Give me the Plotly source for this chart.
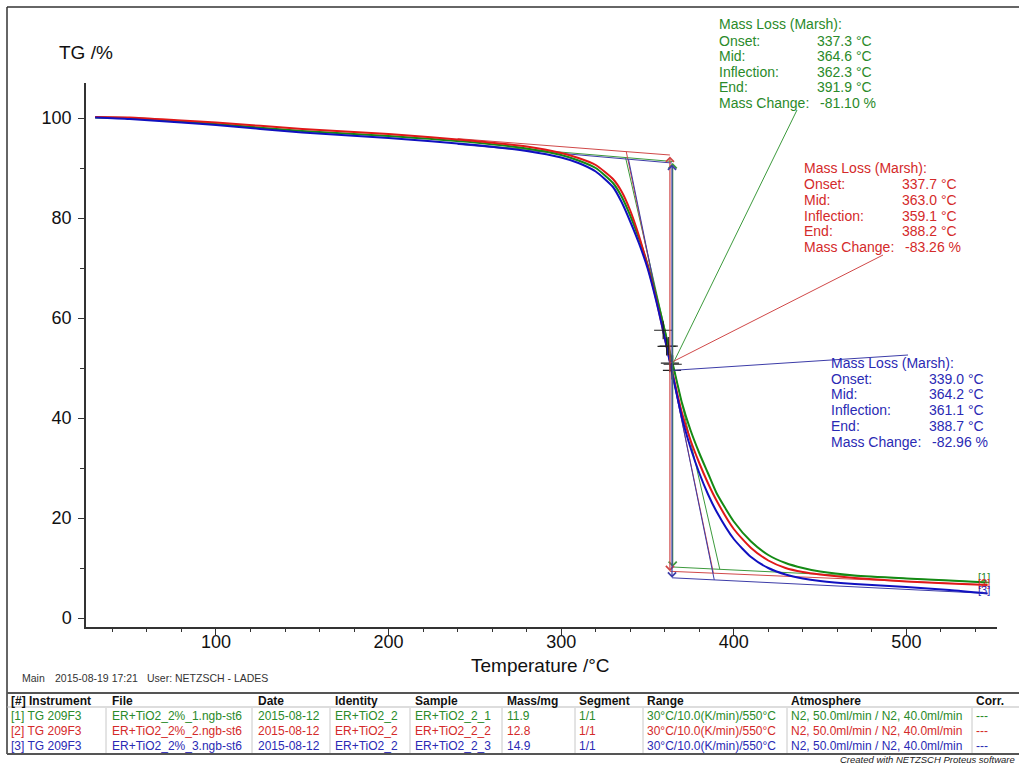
import plotly.graph_objects as go

# ---------------- data ----------------
temps = [30, 50, 80, 100, 150, 200, 250, 280, 300, 310, 320, 330, 335, 340, 345, 350, 355, 360,
         365, 370, 375, 380, 385, 390, 400, 410, 420, 430, 440, 450, 470, 500, 525, 547]
tg_1 = [100.1, 100.0, 99.3, 98.8, 97.4, 96.4, 95.1, 93.9, 92.6, 91.5, 90.0, 87.0, 84.3, 80.5, 76.0, 70.8, 64.5, 57.5,
        50.3, 43.0, 37.5, 33.0, 29.0, 25.0, 19.3, 15.3, 12.6, 11.0, 10.0, 9.3, 8.5, 7.9, 7.5, 7.1]
tg_2 = [100.2, 100.1, 99.5, 99.1, 97.8, 96.8, 95.4, 94.3, 93.0, 92.0, 90.6, 87.8, 85.3, 81.5, 76.5, 70.5, 63.8, 56.0,
        48.3, 41.0, 35.5, 31.0, 27.0, 23.5, 17.8, 14.0, 11.5, 10.0, 9.2, 8.7, 8.0, 7.3, 6.9, 6.6]
tg_3 = [100.1, 99.8, 99.1, 98.6, 97.1, 96.0, 94.6, 93.4, 92.1, 91.0, 89.3, 86.2, 83.2, 79.3, 75.0, 70.0, 63.5, 56.0,
        47.9, 40.0, 34.0, 29.0, 24.8, 21.3, 15.8, 12.2, 10.0, 8.7, 7.9, 7.4, 6.8, 6.2, 5.6, 4.9]

sample_ids = ["[1]", "[2]", "[3]"]
onset_T = [337.3, 337.7, 339.0]
mid_T = [364.6, 363.0, 364.2]
infl_T = [362.3, 359.1, 361.1]
end_T = [391.9, 388.2, 388.7]
mass_change = [-81.10, -83.26, -82.96]
upper_level = [91.3, 92.6, 91.0]        # upper baseline level at mid temperature
upper_slope = [-0.029, -0.0266, -0.030]
lower_slope = [-0.0169, -0.0148, -0.0171]
upper_start_T = 240
lower_stop_T = 547

table_header = ["[#] Instrument", "File", "Date", "Identity", "Sample", "Mass/mg", "Segment", "Range",
                "Atmosphere", "Corr."]
instrument = ["[1] TG 209F3", "[2] TG 209F3", "[3] TG 209F3"]
files = ["ER+TiO2_2%_1.ngb-st6", "ER+TiO2_2%_2.ngb-st6", "ER+TiO2_2%_3.ngb-st6"]
dates = ["2015-08-12", "2015-08-12", "2015-08-12"]
identity = ["ER+TiO2_2", "ER+TiO2_2", "ER+TiO2_2"]
samples = ["ER+TiO2_2_1", "ER+TiO2_2_2", "ER+TiO2_2_3"]
masses = ["11.9", "12.8", "14.9"]
segments = ["1/1", "1/1", "1/1"]
ranges = ["30°C/10.0(K/min)/550°C"] * 3
atmos = ["N2, 50.0ml/min / N2, 40.0ml/min"] * 3
corr = ["---"] * 3

# ---------------- styling / layout ----------------
W, H = 1019, 766
L, R, T, B = 86, 997, 83, 627
XR = [24.7, 552.5]
YR = [-1.8, 107.0]
FONT = "Liberation Sans, Arial, sans-serif"

curve_col = ["#148a14", "#e01818", "#1010c0"]
thin_col = ["#3c9a3c", "#d04848", "#3c3ca8"]
text_col = ["#2a8a2a", "#d42a2a", "#2a2ab4"]


def px(x):
    return (x - L) / (R - L)


def py(y):
    return (B - y) / (B - T)


def dx(xp):  # pixel -> data x
    return XR[0] + (xp - L) / (R - L) * (XR[1] - XR[0])


def dy(yp):  # pixel -> data y
    return YR[0] + (B - yp) / (B - T) * (YR[1] - YR[0])


fig = go.Figure()

# construction lines
for i in range(3):
    lower_level = upper_level[i] + mass_change[i]
    up = lambda t, i=i: upper_level[i] + upper_slope[i] * (t - mid_T[i])
    lo = lambda t, i=i, ll=lower_level: ll + lower_slope[i] * (t - mid_T[i])
    fig.add_trace(go.Scatter(x=[upper_start_T, mid_T[i]], y=[up(upper_start_T), up(mid_T[i])], mode="lines",
                             line=dict(color=thin_col[i], width=1), hoverinfo="skip", showlegend=False))
    fig.add_trace(go.Scatter(x=[mid_T[i], lower_stop_T], y=[lo(mid_T[i]), lo(lower_stop_T)], mode="lines",
                             line=dict(color=thin_col[i], width=1), hoverinfo="skip", showlegend=False))
    fig.add_trace(go.Scatter(x=[onset_T[i], end_T[i]], y=[up(onset_T[i]), lo(end_T[i])], mode="lines",
                             line=dict(color=thin_col[i], width=1), hoverinfo="skip", showlegend=False))
    fig.add_annotation(x=mid_T[i], y=lo(mid_T[i]), ax=mid_T[i], ay=up(mid_T[i]), xref="x", yref="y",
                       axref="x", ayref="y", text="", showarrow=True, arrowside="end+start",
                       arrowhead=4, arrowsize=1.3, arrowwidth=1.2, arrowcolor=thin_col[i])

# curves
for i, tg in enumerate([tg_1, tg_2, tg_3]):
    fig.add_trace(go.Scatter(x=temps, y=tg, mode="lines",
                             line=dict(color=curve_col[i], width=2, shape="spline", smoothing=0.6),
                             name=sample_ids[i], showlegend=False))

# markers at inflection and mid points
mx, my = [], []
for i in range(3):
    lower_level = upper_level[i] + mass_change[i]
    up_on = upper_level[i] + upper_slope[i] * (onset_T[i] - mid_T[i])
    lo_end = lower_level + lower_slope[i] * (end_T[i] - mid_T[i])
    slope = (lo_end - up_on) / (end_T[i] - onset_T[i])
    mx += [infl_T[i], mid_T[i]]
    my += [up_on + slope * (infl_T[i] - onset_T[i]), (upper_level[i] + lower_level) / 2]
fig.add_trace(go.Scatter(x=mx, y=my, mode="markers",
                         marker=dict(symbol="cross-thin", size=13, line=dict(color="#222", width=1.2)),
                         hoverinfo="skip", showlegend=False))

# leader lines to result boxes
leader_end_px = [(797, 110), (883, 255), (908, 355)]
for i in range(3):
    lower_level = upper_level[i] + mass_change[i]
    fig.add_shape(type="line", xref="x", yref="y", x0=mid_T[i], y0=(upper_level[i] + lower_level) / 2,
                  x1=dx(leader_end_px[i][0]), y1=dy(leader_end_px[i][1]),
                  line=dict(color=thin_col[i], width=1))

annotations = []


def text(xp, yp, s, color="#111", size=14, xanchor="left", yanchor="middle"):
    annotations.append(dict(x=px(xp), y=py(yp), xref="paper", yref="paper", text=s, showarrow=False,
                            xanchor=xanchor, yanchor=yanchor, font=dict(family=FONT, size=size, color=color)))


# result boxes
box_pos = [(717, [24, 40.7, 56, 71.7, 87.3, 103.3]),
           (802, [168.3, 184, 200, 216, 231, 247]),
           (829, [362.7, 379, 394, 410, 425.5, 441.7])]
labels = ["Mass Loss (Marsh):", "Onset:", "Mid:", "Inflection:", "End:", "Mass Change:"]
for i in range(3):
    x0, ys = box_pos[i]
    vals = [None, f"{onset_T[i]:.1f} °C", f"{mid_T[i]:.1f} °C", f"{infl_T[i]:.1f} °C", f"{end_T[i]:.1f} °C",
            f"{mass_change[i]:.2f} %"]
    for k in range(6):
        text(x0, ys[k], labels[k], text_col[i], 14)
        if vals[k]:
            text(x0 + (101 if k == 5 else 98), ys[k], vals[k], text_col[i], 14)

# curve end labels
for i, yp in enumerate([577, 583, 590]):
    text(976, yp, sample_ids[i], text_col[i], 11)

# axis titles
text(57, 52, "TG /%", "#111", 19)
text(540, 665, "Temperature /°C", "#111", 19, xanchor="center")

# footer
text(20, 678, "Main", "#333", 10.5)
text(53, 678, "2015-08-19 17:21", "#333", 10.5)
text(145, 678, "User: NETZSCH - LADES", "#333", 10.5)

# table
col_x = [9, 110, 256, 333, 413, 505, 577, 645, 789, 974]
for c, h in enumerate(table_header):
    text(col_x[c], 701, f"<b>{h}</b>", "#111", 12)
row_y = [716, 731, 746]
for r in range(3):
    row = [instrument[r], files[r], dates[r], identity[r], samples[r], masses[r], segments[r], ranges[r],
           atmos[r], corr[r]]
    for c, s in enumerate(row):
        text(col_x[c], row_y[r], s, text_col[r], 12)

text(1017, 759, "<i>Created with NETZSCH Proteus software</i>", "#222", 9.5, xanchor="right")

shapes = []


def pline(x0, y0, x1, y1, color="#333", width=1.5):
    shapes.append(dict(type="line", xref="paper", yref="paper", x0=px(x0), y0=py(y0), x1=px(x1), y1=py(y1),
                       line=dict(color=color, width=width)))


pline(7, 7, 7, 754)            # outer frame left
pline(7, 7, 1019, 7)           # outer frame top
pline(7, 693, 1019, 693, "#555", 2)
pline(7, 707, 1019, 707, "#bbb", 1)
pline(7, 754, 1019, 754, "#555", 2)
for sx in [106, 252, 330, 410, 502, 575, 643, 787, 972]:
    pline(sx, 708, sx, 753, "#c8c8c8", 1)

for s in shapes:
    fig.add_shape(**s)

axis_common = dict(showline=True, linecolor="#333", linewidth=1.5, ticks="outside", tickcolor="#333",
                   showgrid=False, zeroline=False, tickfont=dict(family=FONT, size=18, color="#111"))
fig.update_layout(
    width=W, height=H, margin=dict(l=L, r=W - R, t=T, b=H - B),
    paper_bgcolor="white", plot_bgcolor="white", showlegend=False,
    xaxis=dict(range=XR, tick0=0, dtick=100, ticklen=6, tickwidth=1.2, ticklabelstandoff=-8,
               minor=dict(dtick=20, tick0=0, ticklen=3, ticks="outside", tickcolor="#333", showgrid=False),
               **axis_common),
    yaxis=dict(range=YR, tick0=0, dtick=20, ticklen=6, tickwidth=1.2, ticklabelstandoff=3,
               minor=dict(dtick=10, tick0=0, ticklen=4, ticks="outside", tickcolor="#333", showgrid=False),
               **axis_common),
    annotations=fig.layout.annotations + tuple(annotations),
)

fig.write_html("out.html", config={"displayModeBar": False},
               post_script="document.body.style.margin='0';document.body.style.overflow='hidden';")
